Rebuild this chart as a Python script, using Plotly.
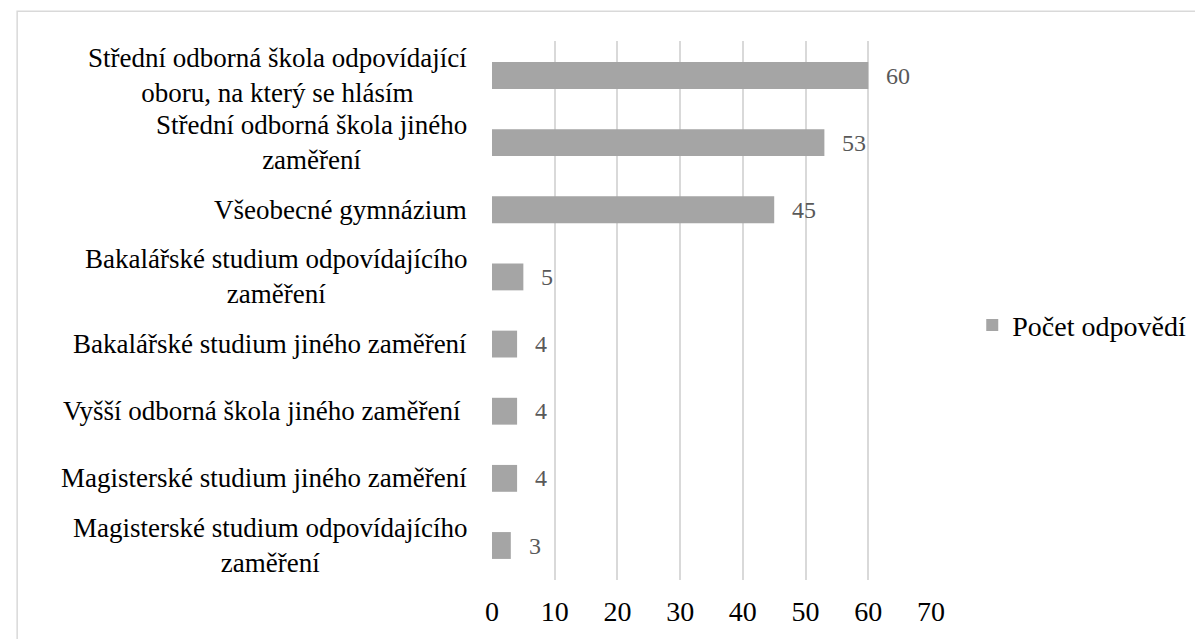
import plotly.graph_objects as go

categories = [
    "Střední odborná škola odpovídající<br>oboru, na který se hlásím",
    "Střední odborná škola jiného<br>zaměření",
    "Všeobecné gymnázium",
    "Bakalářské studium odpovídajícího<br>zaměření",
    "Bakalářské studium jiného zaměření",
    "Vyšší odborná škola jiného zaměření ",
    "Magisterské studium jiného zaměření",
    "Magisterské studium odpovídajícího<br>zaměření",
]
values = [60, 53, 45, 5, 4, 4, 4, 3]
series_name = "Počet odpovědí"
x_ticks = [0, 10, 20, 30, 40, 50, 60, 70]

OFF = 8  # page body margin
W, H = 1203 - OFF, 639 - OFF
L, R, T, B = 492 - OFF, 939 - OFF, 41 - OFF, 583 - OFF
pw, ph = R - L, B - T

FONT = "Liberation Serif"

fig = go.Figure()
fig.add_trace(go.Bar(
    x=values, y=categories, orientation="h",
    name=series_name, marker=dict(color="#a5a5a5", line=dict(width=0)),
    showlegend=True,
))

annotations = []
for c in categories:
    annotations.append(dict(
        x=0, xref="paper", y=c, yref="y", xanchor="right", yanchor="middle",
        xshift=-23, text=c, showarrow=False, align="center",
        font=dict(family=FONT, size=27, color="#000000"),
    ))
for c, v in zip(categories, values):
    annotations.append(dict(
        x=v, xref="x", y=c, yref="y", xanchor="left", yanchor="middle",
        xshift=16, text=str(v), showarrow=False,
        font=dict(family=FONT, size=24, color="#595959"),
    ))

fig.update_layout(
    width=W, height=H,
    margin=dict(l=L, r=W - R, t=T, b=H - B, pad=0),
    paper_bgcolor="white", plot_bgcolor="white",
    bargap=0.6,
    font=dict(family=FONT, size=28, color="#000000"),
    xaxis=dict(
        range=[0, 70], tickvals=x_ticks, ticktext=[str(t) for t in x_ticks],
        showgrid=True, gridcolor="#d9d9d9", gridwidth=1.5,
        zeroline=False, showline=False, ticks="",
        tickfont=dict(family=FONT, size=28, color="#000000"),
        ticklabelstandoff=12,
    ),
    yaxis=dict(
        categoryorder="array", categoryarray=categories, autorange="reversed",
        showticklabels=False, showgrid=False, zeroline=False, showline=False, ticks="",
    ),
    legend=dict(
        x=(981 - OFF - L) / pw, y=(B - (327 - OFF)) / ph, xanchor="left", yanchor="middle",
        font=dict(family=FONT, size=28, color="#000000"),
        bgcolor="rgba(0,0,0,0)", itemwidth=30, tracegroupgap=0,
    ),
    annotations=annotations,
    shapes=[dict(
        type="rect", xref="paper", yref="paper",
        x0=(0.5 - L) / pw, x1=(W + 20 - L) / pw,
        y0=(B - (H + 20)) / ph, y1=(B - 3) / ph,
        line=dict(color="#d9d9d9", width=1.5), fillcolor="rgba(0,0,0,0)", layer="below",
    )],
)

fig.write_html("out.html")
